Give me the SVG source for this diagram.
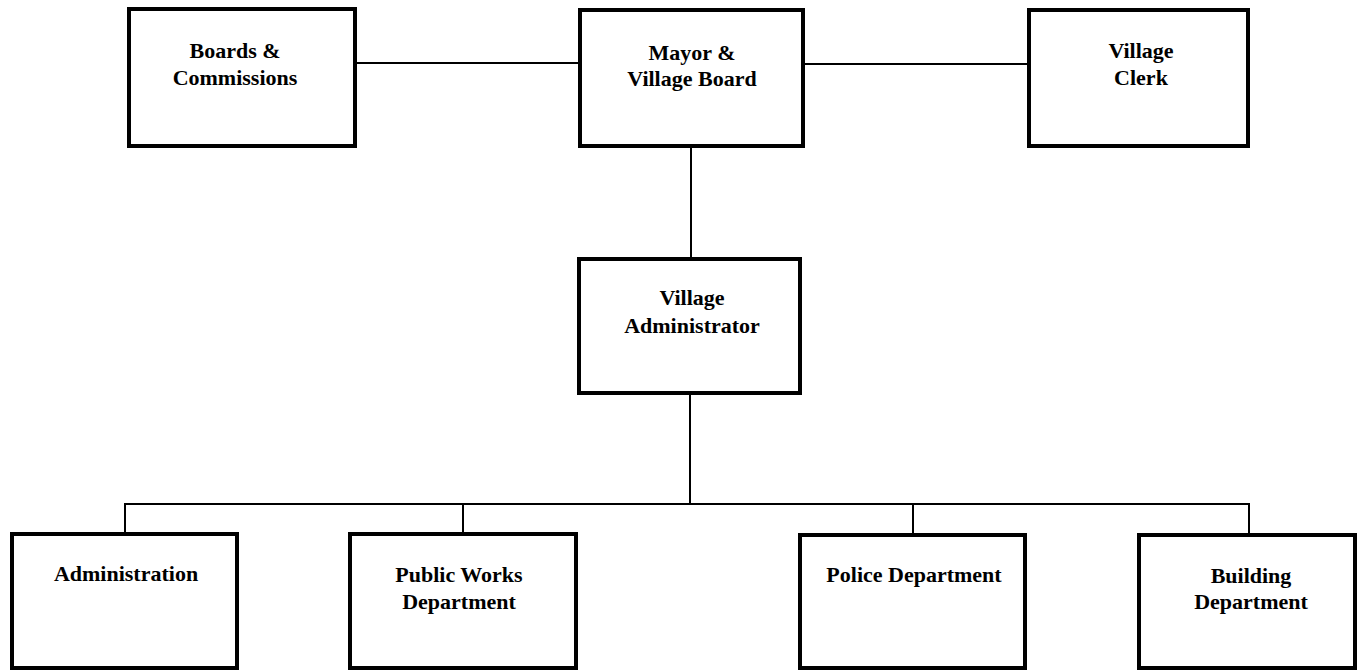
<svg xmlns="http://www.w3.org/2000/svg" width="1367" height="672" viewBox="0 0 1367 672">
<style>
.box{fill:#fff;stroke:#000;stroke-width:4}
.lbl{font-family:"Liberation Serif","Times New Roman",serif;font-weight:bold;font-size:22px;fill:#000;text-anchor:middle}
.con{stroke:#000;stroke-width:2;fill:none}
</style>
<rect width="1367" height="672" fill="#fff"/>
<g id="connectors">
<line class="con" x1="357" y1="63" x2="578" y2="63"/>
<line class="con" x1="805" y1="64" x2="1027" y2="64"/>
<line class="con" x1="691" y1="148" x2="691" y2="257"/>
<line class="con" x1="690" y1="395" x2="690" y2="504"/>
<polyline class="con" points="125,533 125,504 1249,504 1249,533"/>
<line class="con" x1="463" y1="504" x2="463" y2="533"/>
<line class="con" x1="913" y1="504" x2="913" y2="533"/>
</g>
<g id="boards">
<rect class="box" x="129" y="9" width="226" height="137"/>
<text class="lbl" x="235" y="58">Boards &amp;</text>
<text class="lbl" x="235" y="85">Commissions</text>
</g>
<g id="mayor">
<rect class="box" x="580" y="10" width="223" height="136"/>
<text class="lbl" x="692" y="60">Mayor &amp;</text>
<text class="lbl" x="692" y="86">Village Board</text>
</g>
<g id="clerk">
<rect class="box" x="1029" y="10" width="219" height="136"/>
<text class="lbl" x="1141" y="58">Village</text>
<text class="lbl" x="1141" y="85">Clerk</text>
</g>
<g id="administrator">
<rect class="box" x="579" y="259" width="221" height="134"/>
<text class="lbl" x="692" y="305">Village</text>
<text class="lbl" x="692" y="333">Administrator</text>
</g>
<g id="administration">
<rect class="box" x="12" y="534" width="225" height="134"/>
<text class="lbl" x="126" y="581">Administration</text>
</g>
<g id="publicworks">
<rect class="box" x="350" y="534" width="226" height="134"/>
<text class="lbl" x="459" y="582">Public Works</text>
<text class="lbl" x="459" y="609">Department</text>
</g>
<g id="police">
<rect class="box" x="800" y="535" width="225" height="133"/>
<text class="lbl" x="914" y="582">Police Department</text>
</g>
<g id="building">
<rect class="box" x="1139" y="535" width="216" height="133"/>
<text class="lbl" x="1251" y="583">Building</text>
<text class="lbl" x="1251" y="609">Department</text>
</g>
</svg>
